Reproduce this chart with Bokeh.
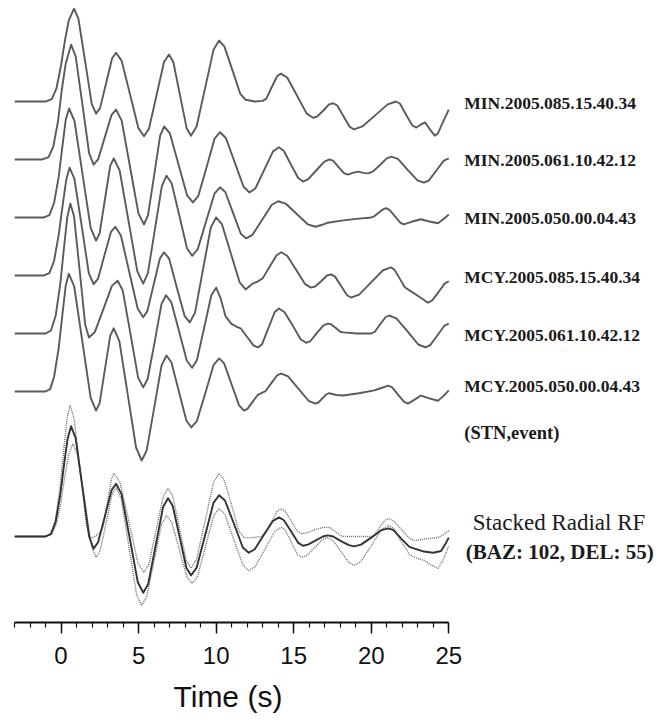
from bokeh.plotting import figure
from bokeh.models import Range1d, FixedTicker, Title
from bokeh.core.properties import value
from bokeh.embed import file_html
from bokeh.resources import INLINE

# ---------------- data (time in s, amplitude in relative units) ----------------
station_labels = ["MIN.2005.085.15.40.34", "MIN.2005.061.10.42.12", "MIN.2005.050.00.04.43",
                  "MCY.2005.085.15.40.34", "MCY.2005.061.10.42.12", "MCY.2005.050.00.04.43"]

min085_t = [-3, -0.97, -0.6, -0.3, 0.0, 0.25, 0.5, 0.84, 1.12, 1.55, 1.98, 2.26, 2.52, 2.91, 3.29, 3.55, 3.91, 4.45,
            4.99, 5.35, 5.67, 6.16, 6.64, 6.96, 7.24, 7.67, 8.10, 8.38, 8.74, 9.29, 9.83, 10.19, 10.53, 11.05, 11.56,
            11.9, 12.5, 13.0, 13.24, 13.59, 13.94, 14.18, 14.59, 15.22, 15.84, 16.25, 16.51, 16.9, 17.28, 17.54,
            17.81, 18.22, 18.62, 18.89, 19.43, 20.25, 21.06, 21.6, 21.86, 22.25, 22.64, 22.9, 23.18, 23.47, 23.78,
            24.1, 24.3, 24.55, 25]
min085_a = [0, 0, 0.04, 0.22, 0.62, 1.05, 1.40, 1.60, 1.43, 0.70, -0.04, -0.21, -0.11, 0.32, 0.74, 0.84, 0.70, 0.12,
            -0.46, -0.60, -0.47, 0.11, 0.68, 0.81, 0.68, 0.11, -0.46, -0.59, -0.43, 0.23, 0.89, 1.05, 0.95, 0.54, 0.13,
            0.03, 0.0, 0.01, 0.05, 0.25, 0.44, 0.48, 0.41, 0.10, -0.21, -0.28, -0.26, -0.16, -0.05, -0.03,
            -0.07, -0.26, -0.44, -0.48, -0.43, -0.24, -0.05, 0.0, -0.04, -0.23, -0.41, -0.45, -0.40, -0.36, -0.48,
            -0.59, -0.55, -0.40, -0.14]

min061_t = [-3, -1.2, -0.8, -0.5, -0.2, 0.05, 0.3, 0.65, 0.94, 1.38, 1.81, 2.1, 2.39, 2.83, 3.26, 3.55, 3.91, 4.45,
            4.99, 5.35, 5.61, 6.0, 6.39, 6.65, 7.02, 7.58, 8.13, 8.5, 8.85, 9.38, 9.9, 10.25, 10.63, 11.2, 11.77,
            12.15, 12.53, 13.1, 13.67, 14.05, 14.36, 14.83, 15.29, 15.6, 15.94, 16.45, 16.96, 17.3, 17.54, 17.9,
            18.26, 18.5, 18.8, 19.15, 19.5, 19.8, 20.1, 20.55, 21.0, 21.3, 21.72, 22.35, 22.98, 23.4, 23.72, 24.2,
            24.68, 25]
min061_a = [0, 0, 0.04, 0.22, 0.65, 1.2, 1.65, 1.98, 1.78, 0.95, 0.11, -0.09, 0.0, 0.39, 0.77, 0.86, 0.67, -0.13,
            -0.93, -1.12, -0.96, -0.28, 0.41, 0.57, 0.45, -0.09, -0.62, -0.74, -0.63, -0.14, 0.36, 0.47, 0.37, -0.05,
            -0.47, -0.57, -0.50, -0.18, 0.14, 0.21, 0.15, -0.09, -0.32, -0.38, -0.34, -0.19, -0.04, 0.0, -0.02, -0.13,
            -0.24, -0.26, -0.23, -0.21, -0.23, -0.24, -0.21, -0.10, 0.02, 0.05, 0.01, -0.18, -0.36, -0.40, -0.36,
            -0.19, -0.02, 0.02]

min050_t = [-3, -1.1, -0.75, -0.45, -0.15, 0.1, 0.3, 0.52, 0.87, 1.39, 1.91, 2.26, 2.49, 2.83, 3.17, 3.4, 3.78, 4.35,
            4.92, 5.3, 5.6, 6.05, 6.5, 6.8, 7.13, 7.63, 8.12, 8.45, 8.81, 9.35, 9.89, 10.25, 10.59, 11.09, 11.59,
            11.93, 12.34, 12.97, 13.59, 14.0, 14.48, 15.2, 15.92, 16.4, 16.8, 17.2, 18.2, 19.2, 20.0, 20.19, 20.48,
            20.76, 20.95, 21.18, 21.53, 21.87, 22.1, 22.65, 23.2, 23.75, 24.3, 24.65, 25]
min050_a = [0, 0, 0.04, 0.25, 0.70, 1.25, 1.68, 1.88, 1.66, 0.74, -0.18, -0.40, -0.27, 0.31, 0.89, 1.02, 0.81, -0.06,
            -0.93, -1.14, -0.96, -0.21, 0.54, 0.72, 0.59, 0.03, -0.53, -0.66, -0.55, -0.07, 0.41, 0.52, 0.44, 0.08,
            -0.28, -0.36, -0.30, -0.04, 0.22, 0.28, 0.24, 0.06, -0.12, -0.16, -0.13, -0.09, -0.05, -0.02, 0.0, 0.02,
            0.08, 0.14, 0.16, 0.13, 0.02, -0.09, -0.12, -0.07, -0.03, -0.07, -0.10, -0.03, 0.05]

mcy085_t = [-3, -1.1, -0.75, -0.45, -0.15, 0.1, 0.33, 0.55, 0.86, 1.33, 1.79, 2.1, 2.38, 2.8, 3.22, 3.5, 3.86, 4.4,
            4.94, 5.3, 5.57, 5.97, 6.37, 6.64, 6.97, 7.47, 7.97, 8.3, 8.64, 9.15, 9.66, 10.0, 10.38, 10.95, 11.52,
            11.9, 12.3, 12.7, 13.0, 13.45, 13.9, 14.2, 14.58, 15.16, 15.74, 16.12, 16.38, 16.77, 17.15, 17.41, 17.67,
            18.06, 18.44, 18.7, 19.22, 19.99, 20.76, 21.28, 21.5, 21.83, 22.15, 22.37, 23.0, 23.66, 23.93, 24.33,
            24.73, 25]
mcy085_a = [0, 0, 0.04, 0.25, 0.70, 1.20, 1.64, 1.86, 1.67, 0.86, 0.04, -0.15, -0.06, 0.35, 0.75, 0.84, 0.69, 0.06,
            -0.57, -0.72, -0.61, -0.16, 0.29, 0.40, 0.29, -0.21, -0.70, -0.81, -0.64, 0.10, 0.83, 1.0, 0.88, 0.38,
            -0.12, -0.24, -0.15, -0.10, -0.05, 0.15, 0.35, 0.40, 0.34, 0.10, -0.15, -0.21, -0.19, -0.10, 0.0, 0.02,
            -0.02, -0.18, -0.34, -0.38, -0.33, -0.12, 0.09, 0.14, 0.10, -0.05, -0.20, -0.24, -0.35, -0.47, -0.43,
            -0.29, -0.14, -0.10]

mcy061_t = [-3, -1.0, -0.65, -0.35, -0.05, 0.2, 0.4, 0.6, 0.84, 1.2, 1.56, 1.8, 2.17, 2.73, 3.28, 3.65, 3.98, 4.48,
            4.97, 5.3, 5.59, 6.04, 6.48, 6.77, 7.11, 7.61, 8.11, 8.45, 8.76, 9.23, 9.69, 10.0, 10.3, 10.6, 10.97,
            11.3, 11.58, 12.0, 12.42, 12.7, 12.97, 13.38, 13.78, 14.05, 14.4, 14.93, 15.45, 15.8, 16.08, 16.5, 16.92,
            17.2, 17.4, 17.7, 18.0, 18.2, 19.1, 20.0, 20.23, 20.58, 20.92, 21.15, 21.62, 22.33, 23.03, 23.5, 23.8,
            24.25, 24.7, 25]
mcy061_a = [0, 0, 0.05, 0.30, 0.85, 1.50, 2.0, 2.24, 2.02, 1.09, 0.15, -0.07, 0.02, 0.42, 0.82, 0.91, 0.74, -0.01,
            -0.76, -0.93, -0.78, -0.14, 0.51, 0.66, 0.54, 0.04, -0.47, -0.59, -0.46, 0.10, 0.66, 0.79, 0.6, 0.3, 0.17,
            0.12, 0.09, -0.06, -0.21, -0.24, -0.18, 0.10, 0.37, 0.43, 0.37, 0.14, -0.10, -0.16, -0.13, 0.01, 0.14,
            0.17, 0.16, 0.10, 0.03, 0.02, 0.0, 0.0, 0.03, 0.16, 0.28, 0.31, 0.26, 0.04, -0.19, -0.24, -0.20, -0.04,
            0.13, 0.17]

mcy050_t = [-3, -1.0, -0.7, -0.45, -0.15, 0.1, 0.3, 0.5, 0.85, 1.38, 1.91, 2.26, 2.49, 2.83, 3.17, 3.4, 3.76, 4.3,
            4.84, 5.2, 5.52, 6.0, 6.48, 6.8, 7.12, 7.6, 8.08, 8.4, 8.76, 9.3, 9.84, 10.2, 10.52, 11.0, 11.48, 11.8,
            12.02, 12.35, 12.68, 12.9, 13.16, 13.55, 13.94, 14.2, 14.64, 15.3, 15.96, 16.4, 16.6, 16.85, 17.1, 17.3,
            17.75, 18.2, 19.2, 20.2, 20.65, 21.1, 21.35, 21.74, 22.12, 22.37, 22.8, 23.2, 23.75, 24.3, 24.65, 25]
mcy050_a = [0, 0, 0.04, 0.25, 0.75, 1.35, 1.82, 2.03, 1.81, 0.85, -0.11, -0.33, -0.20, 0.38, 0.96, 1.09, 0.87, -0.05,
            -0.97, -1.19, -1.02, -0.29, 0.45, 0.62, 0.50, 0.0, -0.50, -0.62, -0.51, -0.03, 0.46, 0.57, 0.48, 0.12,
            -0.24, -0.33, -0.30, -0.18, -0.06, -0.03, 0.0, 0.14, 0.28, 0.31, 0.26, 0.05, -0.16, -0.21, -0.19, -0.12,
            -0.05, -0.03, -0.06, -0.07, -0.03, 0.02, 0.06, 0.10, 0.07, -0.06, -0.18, -0.21, -0.14, -0.07, -0.12,
            -0.16, -0.08, 0.02]

stack_t = [-3, -1.0, -0.65, -0.35, -0.05, 0.2, 0.42, 0.65, 0.94, 1.38, 1.81, 2.1, 2.39, 2.83, 3.26, 3.55, 3.9, 4.43,
           4.95, 5.3, 5.62, 6.1, 6.58, 6.9, 7.2, 7.64, 8.08, 8.38, 8.74, 9.29, 9.83, 10.19, 10.57, 11.15, 11.72, 12.1,
           12.49, 13.08, 13.67, 14.06, 14.37, 14.83, 15.29, 15.6, 15.92, 16.4, 16.88, 17.2, 17.54, 18.05, 18.56,
           18.9, 19.34, 20.0, 20.66, 21.1, 21.44, 21.95, 22.46, 22.8, 23.4, 24.0, 24.5, 24.8, 25]
stack_mean = [0, 0, 0.04, 0.25, 0.72, 1.25, 1.68, 1.90, 1.70, 0.85, 0.0, -0.21, -0.10, 0.35, 0.80, 0.91, 0.73, -0.03,
              -0.79, -0.97, -0.82, -0.16, 0.51, 0.66, 0.53, 0.0, -0.54, -0.67, -0.54, 0.02, 0.58, 0.71, 0.62, 0.22,
              -0.19, -0.28, -0.22, 0.03, 0.27, 0.33, 0.28, 0.09, -0.11, -0.16, -0.14, -0.07, 0.0, 0.02, 0.0, -0.08,
              -0.15, -0.17, -0.14, -0.02, 0.11, 0.14, 0.11, -0.04, -0.18, -0.21, -0.26, -0.28, -0.25, -0.12, -0.02]

upper_t = [-3, -1.0, -0.65, -0.35, -0.05, 0.2, 0.4, 0.58, 0.84, 1.24, 1.64, 1.9, 2.2, 2.55, 2.72, 2.98, 3.25, 3.42,
           3.81, 4.39, 4.96, 5.35, 5.66, 6.13, 6.59, 6.9, 7.2, 7.64, 8.08, 8.38, 8.74, 9.29, 9.83, 10.19, 10.51, 11.0,
           11.48, 11.8, 12.35, 12.9, 13.16, 13.54, 13.92, 14.18, 14.44, 14.84, 15.24, 15.5, 15.82, 16.3, 16.78, 17.1,
           17.34, 17.7, 18.06, 18.3, 19.15, 20.0, 20.22, 20.55, 20.88, 21.1, 21.44, 21.95, 22.46, 22.8, 23.5, 24.3,
           24.65, 25]
upper_a = [0, 0, 0.05, 0.30, 0.88, 1.55, 2.05, 2.26, 2.04, 1.12, 0.19, -0.03, 0.0, 0.08, 0.18, 0.58, 0.99, 1.09,
           0.93, 0.24, -0.46, -0.62, -0.48, 0.11, 0.69, 0.83, 0.70, 0.14, -0.42, -0.55, -0.39, 0.27, 0.93, 1.09, 0.98,
           0.54, 0.09, -0.02, -0.02, 0.0, 0.05, 0.24, 0.43, 0.48, 0.44, 0.27, 0.09, 0.05, 0.06, 0.11, 0.15, 0.16,
           0.15, 0.08, 0.01, 0.0, 0.0, 0.0, 0.03, 0.16, 0.28, 0.31, 0.27, 0.12, -0.03, -0.07, -0.04, -0.02, 0.03,
           0.10]

lower_t = [-3, -1.0, -0.6, -0.3, 0.0, 0.25, 0.5, 0.77, 1.07, 1.52, 1.96, 2.26, 2.52, 2.91, 3.29, 3.55, 3.88, 4.38,
           4.87, 5.2, 5.52, 6.0, 6.48, 6.8, 7.13, 7.63, 8.12, 8.45, 8.8, 9.32, 9.84, 10.19, 10.57, 11.15, 11.72, 12.1,
           12.52, 13.15, 13.78, 14.2, 14.46, 14.85, 15.24, 15.5, 15.84, 16.35, 16.86, 17.2, 17.54, 18.05, 18.56,
           18.9, 19.34, 20.0, 20.66, 21.1, 21.44, 21.95, 22.46, 22.8, 23.1, 23.4, 23.85, 24.3, 24.65, 25]
lower_a = [0, 0, 0.04, 0.22, 0.60, 1.05, 1.42, 1.60, 1.41, 0.62, -0.17, -0.36, -0.25, 0.24, 0.73, 0.84, 0.65, -0.18,
           -1.0, -1.19, -1.04, -0.42, 0.21, 0.36, 0.25, -0.23, -0.70, -0.81, -0.69, -0.17, 0.36, 0.48, 0.38, -0.06,
           -0.49, -0.59, -0.52, -0.22, 0.09, 0.16, 0.11, -0.10, -0.31, -0.36, -0.33, -0.19, -0.05, -0.02, -0.07,
           -0.26, -0.45, -0.50, -0.43, -0.16, 0.12, 0.19, 0.14, -0.09, -0.31, -0.36, -0.39, -0.41, -0.49, -0.55,
           -0.40, -0.16]

x_ticks = [0, 5, 10, 15, 20, 25]

# ---------------- figure ----------------
PX_PER_S = 15.51
FRAME_W = 663 - 14
p = figure(width=663, height=725,
           x_range=Range1d(-3, -3 + FRAME_W / PX_PER_S),
           y_range=Range1d(-8.983, 1.741),
           output_backend="svg", toolbar_location=None,
           y_axis_location=None,
           min_border_left=14, min_border_right=0, min_border_top=0, min_border_bottom=103)
p.grid.visible = False
p.outline_line_color = None
p.background_fill_color = "white"
p.border_fill_color = "white"

trace_color = "#5a5a5a"
traces = [(min085_t, min085_a), (min061_t, min061_a), (min050_t, min050_a),
          (mcy085_t, mcy085_a), (mcy061_t, mcy061_a), (mcy050_t, mcy050_a)]
offsets = [0.0, -1.0, -2.0, -3.0, -4.0, -5.0]
for (ts, amps), off in zip(traces, offsets):
    p.line(ts, [off + a for a in amps], line_color=trace_color, line_width=1.9, line_join="round")

stack_off = -7.5
p.line(upper_t, [stack_off + a for a in upper_a], line_color="#6e6e6e", line_width=1.4, line_dash="1 1")
p.line(lower_t, [stack_off + a for a in lower_a], line_color="#6e6e6e", line_width=1.4, line_dash="1 1")
p.line(stack_t, [stack_off + a for a in stack_mean], line_color="#333333", line_width=1.9, line_join="round")

# ---------------- labels ----------------
label_y = [-0.034, -1.017, -2.017, -3.034, -4.034, -4.897]
p.text(x=[26.0] * len(station_labels), y=label_y, text=station_labels,
       text_font=value("Liberation Serif"), text_font_style="bold", text_font_size="17.5px",
       text_color="#1a1a1a", text_baseline="middle", text_align="left")
p.text(x=[26.0], y=[-5.724], text=["(STN,event)"],
       text_font=value("Liberation Serif"), text_font_style="bold", text_font_size="18.5px",
       text_color="#1a1a1a", text_baseline="middle", text_align="left")
p.text(x=[26.55], y=[-7.259], text=["Stacked Radial RF"],
       text_font=value("Liberation Serif"), text_font_style="normal", text_font_size="23px",
       text_color="#1a1a1a", text_baseline="middle", text_align="left")
p.text(x=[26.1], y=[-7.776], text=["(BAZ: 102, DEL: 55)"],
       text_font=value("Liberation Serif"), text_font_style="bold", text_font_size="21px",
       text_color="#1a1a1a", text_baseline="middle", text_align="left")

# ---------------- axis ----------------
ax = p.xaxis[0]
ax.bounds = (-3, 25)
ax.ticker = FixedTicker(ticks=x_ticks, minor_ticks=list(range(-3, 26)))
ax.axis_line_width = 2
ax.axis_line_color = "#111111"
ax.major_tick_in = 0
ax.major_tick_out = 11
ax.major_tick_line_width = 1.5
ax.major_tick_line_color = "#111111"
ax.minor_tick_in = 0
ax.minor_tick_out = 5
ax.minor_tick_line_width = 1.2
ax.minor_tick_line_color = "#111111"
ax.major_label_text_font = "Liberation Sans"
ax.major_label_text_font_size = "24px"
ax.major_label_text_color = "#111111"
ax.major_label_standoff = 13

# axis title, centred under the axis span (-3..25)
p.add_layout(Title(text="Time (s)", align="left", offset=159, standoff=22,
                   text_font="Liberation Sans", text_font_size="30px", text_font_style="normal",
                   text_color="#111111"), "below")

open("out.html", "w").write(file_html(p, INLINE))
